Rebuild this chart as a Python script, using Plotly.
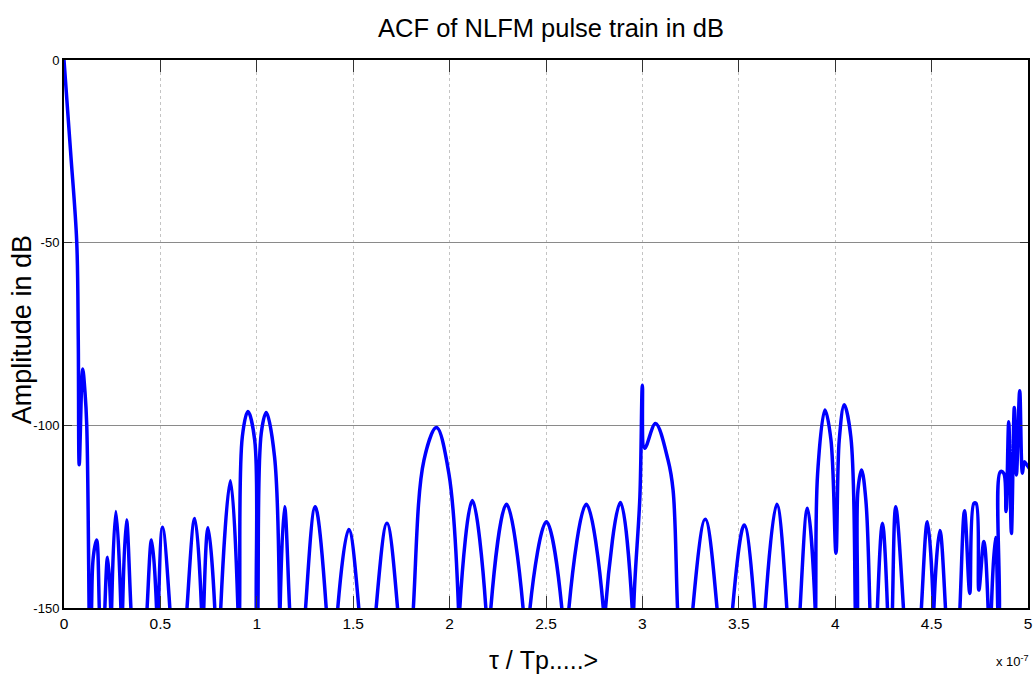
import plotly.graph_objects as go

# Delay axis (tau / Tp, plotted in units of 1e-7) and ACF magnitude in dB.
# Values of -200 mark deep nulls that fall below the -150 dB floor of the axis.
tau = [
    0.000, 0.034, 0.066, 0.074, 0.079, 0.097, 0.109, 0.118, 0.130, 0.137,
    0.143, 0.152, 0.169, 0.183, 0.197,
    0.212, 0.226, 0.242, 0.245,
    0.247, 0.269, 0.295, 0.300,
    0.304, 0.324, 0.347, 0.390,
    0.431, 0.454, 0.480, 0.485,
    0.490, 0.511, 0.549, 0.590,
    0.638, 0.678, 0.713, 0.719,
    0.725, 0.747, 0.782, 0.797,
    0.813, 0.863, 0.902, 0.906,
    0.911, 0.925, 0.954, 0.989, 0.997, 1.001,
    1.006, 1.023, 1.049, 1.092, 1.118, 1.120,
    1.121, 1.144, 1.170, 1.210,
    1.253, 1.303, 1.360, 1.390,
    1.420, 1.477, 1.529, 1.570,
    1.619, 1.675, 1.730, 1.770,
    1.812, 1.867, 1.932, 1.996, 2.046, 2.050,
    2.053, 2.118, 2.188, 2.200,
    2.214, 2.295, 2.381, 2.400,
    2.417, 2.502, 2.582, 2.600,
    2.619, 2.709, 2.797, 2.803,
    2.809, 2.886, 2.947, 2.951,
    2.955, 2.987, 3.000, 3.012, 3.068, 3.133, 3.159, 3.182, 3.220,
    3.262, 3.326, 3.387, 3.430,
    3.468, 3.528, 3.582, 3.610,
    3.637, 3.697, 3.749, 3.780,
    3.818, 3.856, 3.896, 3.897,
    3.899, 3.909, 3.947, 3.978, 4.004, 4.021, 4.047, 4.081, 4.104, 4.110,
    4.116, 4.118, 4.137, 4.159, 4.180, 4.200,
    4.219, 4.245, 4.271, 4.285,
    4.297, 4.314, 4.354, 4.400,
    4.447, 4.478, 4.509, 4.510,
    4.512, 4.543, 4.572, 4.610,
    4.647, 4.671, 4.698, 4.719, 4.731, 4.745, 4.771, 4.793, 4.800,
    4.810, 4.831, 4.843, 4.846,
    4.852, 4.857, 4.874, 4.886, 4.900, 4.914, 4.929, 4.940, 4.957, 4.971,
    4.981, 4.995, 5.010,
]

acf_db = [
    0.0, -25.0, -49.7, -76.6, -110.8, -84.6, -91.0, -100.0, -150, -200,
    -150, -136.0, -131.4, -150, -200,
    -150, -136.1, -150, -200,
    -150, -123.6, -150, -200,
    -150, -125.9, -150, -200,
    -150, -131.4, -150, -200,
    -150, -127.9, -150, -200,
    -150, -125.5, -150, -200,
    -150, -128.0, -150, -200,
    -150, -115.2, -150, -200,
    -150, -103.1, -96.2, -104.0, -150, -200,
    -150, -102.2, -96.5, -108.6, -150, -200,
    -150, -122.3, -150, -200,
    -150, -122.3, -150, -200,
    -150, -128.5, -150, -200,
    -150, -126.8, -150, -200,
    -150, -109.5, -100.6, -113.1, -150, -200,
    -150, -120.6, -150, -200,
    -150, -121.6, -150, -200,
    -150, -126.4, -150, -200,
    -150, -121.6, -150, -200,
    -150, -121.1, -150, -200,
    -150, -119.5, -89.0, -106.3, -99.5, -109.5, -117.7, -150, -200,
    -150, -125.7, -150, -200,
    -150, -127.3, -150, -200,
    -150, -121.6, -150, -200,
    -150, -122.7, -150, -200,
    -150, -113.0, -95.8, -104.0, -135.0, -104.0, -94.4, -103.1, -150, -200,
    -150, -117.7, -112.2, -120.5, -150, -200,
    -150, -126.8, -150, -200,
    -150, -122.3, -150, -200,
    -150, -126.4, -150, -200,
    -150, -128.8, -150, -200,
    -150, -123.4, -146.0, -121.4, -121.4, -145.1, -131.8, -150, -200,
    -150, -130.7, -150, -200,
    -150, -112.7, -113.1, -123.6, -99.0, -129.6, -95.1, -113.6, -90.5, -113.1,
    -110.0, -110.9, -112.0,
]

x_ticks = [0, 0.5, 1, 1.5, 2, 2.5, 3, 3.5, 4, 4.5, 5]
x_tick_labels = ["0", "0.5", "1", "1.5", "2", "2.5", "3", "3.5", "4", "4.5", "5"]
y_ticks = [-150, -100, -50, 0]
y_tick_labels = ["-150", "-100", "-50", "0"]

FONT = "Liberation Sans Narrow, Arial Narrow, Liberation Sans, Arial, sans-serif"

fig = go.Figure()
fig.add_trace(go.Scatter(
    x=tau, y=acf_db, mode="lines",
    line=dict(color="#0000ff", width=3.5, shape="spline", smoothing=1.0),
    showlegend=False, hoverinfo="skip",
))

fig.update_layout(
    width=1034, height=685,
    margin=dict(l=64, r=2, t=60, b=77),
    paper_bgcolor="white", plot_bgcolor="white",
    title=dict(text="ACF of NLFM pulse train in dB",
               font=dict(family=FONT, size=25.5, color="black"),
               x=551 / 1034, xanchor="center", xref="container",
               y=1 - 28 / 685, yanchor="middle", yref="container"),
    xaxis=dict(
        range=[0, 5], tickmode="array", tickvals=x_ticks, ticktext=x_tick_labels,
        showgrid=True, gridcolor="#c4c4c4", griddash="dot", gridwidth=1,
        zeroline=False, showline=True, linecolor="black", linewidth=2,
        mirror="ticks", ticks="inside", ticklen=12, tickwidth=1.2, tickcolor="#333333",
        ticklabeloverflow="allow",
        tickfont=dict(family=FONT, size=15.5, color="black"),
    ),
    yaxis=dict(
        range=[-150, 0], tickmode="array", tickvals=y_ticks, ticktext=y_tick_labels,
        showgrid=True, gridcolor="#8a8a8a", gridwidth=1.3,
        zeroline=False, showline=True, linecolor="black", linewidth=2,
        mirror="ticks", ticks="inside", ticklen=8, tickwidth=1.2, tickcolor="#333333",
        tickfont=dict(family=FONT, size=13, color="black"),
    ),
)

fig.add_annotation(text="τ / Tp.....>", xref="paper", yref="paper",
                   x=(545 - 64) / 968, y=-(660 - 608) / 548,
                   xanchor="center", yanchor="middle", showarrow=False,
                   font=dict(family=FONT, size=25, color="black"))
fig.add_annotation(text="Amplitude in dB", xref="paper", yref="paper",
                   x=-(64 - 22) / 968, y=(608 - 330) / 548, textangle=-90,
                   xanchor="center", yanchor="middle", showarrow=False,
                   font=dict(family="Liberation Sans, Arial, sans-serif", size=27, color="black"))
fig.add_annotation(text="x 10<sup>-7</sup>", xref="paper", yref="paper",
                   x=(1016 - 64) / 968, y=-(661 - 608) / 548,
                   xanchor="center", yanchor="middle", showarrow=False,
                   font=dict(family=FONT, size=13, color="black"))

fig.write_html("out.html")
